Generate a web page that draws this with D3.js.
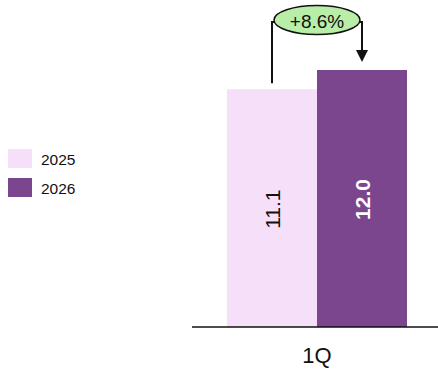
<!DOCTYPE html>
<html lang="en">
<head>
<meta charset="utf-8">
<style>
  body { margin: 0; background: #fff; }
  svg { font-family: "Liberation Sans", Arial, sans-serif; }
</style>
</head>
<body>
<svg id="chart" width="438" height="371"></svg>
<script src="https://d3js.org/d3.v7.min.js"></script>
<script>
const categories = ["1Q"];
const seriesNames = ["2025", "2026"];
const values2025 = [11.1];
const values2026 = [12.0];
const growthLabels = ["+8.6%"];

const colors = { "2025": "#f6dff8", "2026": "#7c468f" };
const svg = d3.select("#chart");

// scales
const x = d3.scaleBand().domain(categories).range([227, 407]).paddingInner(0).paddingOuter(0);
const xs = d3.scaleBand().domain(seriesNames).range([0, x.bandwidth()]);
const y = d3.scaleLinear().domain([0, 12]).range([327, 70]);

const data = categories.map((c, i) => ({ cat: c, vals: [values2025[i], values2026[i]] }));

// bars
const groups = svg.selectAll("g.cat").data(data).enter().append("g")
  .attr("class", "cat")
  .attr("transform", d => `translate(${x(d.cat)},0)`);

groups.selectAll("rect")
  .data(d => d.vals.map((v, j) => ({ s: seriesNames[j], v })))
  .enter().append("rect")
  .attr("x", d => xs(d.s))
  .attr("y", d => y(d.v))
  .attr("width", xs.bandwidth())
  .attr("height", d => y(0) - y(d.v))
  .attr("fill", d => colors[d.s]);

groups.selectAll("text.val")
  .data(d => d.vals.map((v, j) => ({ s: seriesNames[j], v })))
  .enter().append("text")
  .attr("class", "val")
  .attr("transform", d => `translate(${xs(d.s) + xs.bandwidth() / 2},${(y(d.v) + y(0)) / 2 + 1}) rotate(-90)`)
  .attr("text-anchor", "middle")
  .attr("dominant-baseline", "central")
  .attr("font-size", 21)
  .attr("font-weight", d => d.s === "2026" ? "bold" : "normal")
  .attr("fill", d => d.s === "2026" ? "#fff" : "#111")
  .text(d => d.v.toFixed(1));

// axis line
svg.append("line")
  .attr("x1", 192).attr("x2", 438)
  .attr("y1", y(0)).attr("y2", y(0))
  .attr("stroke", "#111").attr("stroke-width", 1.5);

// category labels
svg.selectAll("text.cat").data(categories).enter().append("text")
  .attr("x", d => x(d) + x.bandwidth() / 2)
  .attr("y", 363)
  .attr("text-anchor", "middle")
  .attr("font-size", 22)
  .attr("fill", "#111")
  .text(d => d);

// growth annotation
data.forEach((d, i) => {
  const x1 = x(d.cat) + xs("2025") + xs.bandwidth() / 2;
  const x2 = x(d.cat) + xs("2026") + xs.bandwidth() / 2;
  const cx = (x1 + x2) / 2;
  const cy = 20;
  const rx = 43, ry = 14.5;
  const g = svg.append("g");
  g.append("path")
    .attr("d", `M${x1},${y(d.vals[0]) - 6} V${cy + 2} H${cx - rx + 2}`)
    .attr("fill", "none").attr("stroke", "#111").attr("stroke-width", 2);
  g.append("path")
    .attr("d", `M${cx + rx - 2},${cy + 2} H${x2} V${y(d.vals[1]) - 18}`)
    .attr("fill", "none").attr("stroke", "#111").attr("stroke-width", 2);
  g.append("path")
    .attr("d", `M${x2 - 6},${y(d.vals[1]) - 20} L${x2 + 6},${y(d.vals[1]) - 20} L${x2},${y(d.vals[1]) - 8} Z`)
    .attr("fill", "#111");
  g.append("ellipse")
    .attr("cx", cx).attr("cy", cy).attr("rx", rx).attr("ry", ry)
    .attr("fill", "#b8eea8").attr("stroke", "#111").attr("stroke-width", 1.5);
  g.append("text")
    .attr("x", cx).attr("y", cy + 1)
    .attr("text-anchor", "middle").attr("dominant-baseline", "central")
    .attr("font-size", 19).attr("fill", "#111")
    .text(growthLabels[i]);
});

// legend
const legend = svg.append("g").attr("transform", "translate(8,149)");
const items = legend.selectAll("g").data(seriesNames).enter().append("g")
  .attr("transform", (d, i) => `translate(0,${i * 29})`);
items.append("rect").attr("width", 24).attr("height", 19).attr("fill", d => colors[d]);
items.append("text").attr("x", 33).attr("y", 10).attr("dominant-baseline", "central")
  .attr("font-size", 15.5).attr("fill", "#111").text(d => d);
</script>
</body>
</html>
